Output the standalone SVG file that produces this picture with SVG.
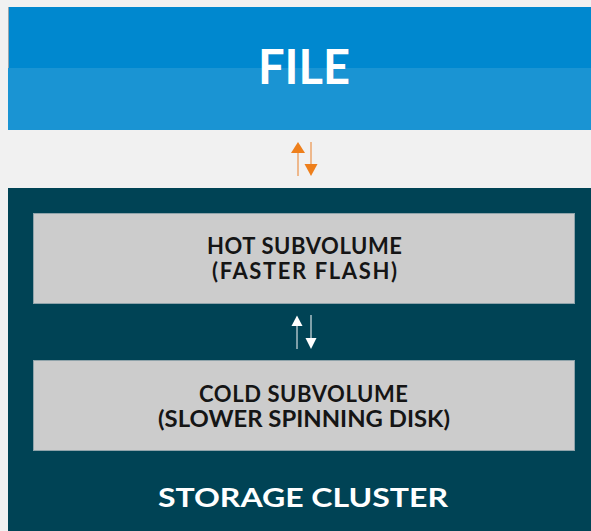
<svg xmlns="http://www.w3.org/2000/svg" width="591" height="531" viewBox="0 0 591 531">
  <style>
    .title { font-family: Lato, "Liberation Sans", sans-serif; font-weight: 700; fill: #ffffff; text-anchor: middle; }
    .label { font-family: Lato, "Liberation Sans", sans-serif; font-weight: 700; font-size: 22px; fill: #151515; text-anchor: middle; }
    .sub { fill: #cccccc; stroke: #8fa3aa; stroke-width: 1; }
  </style>

  <rect width="591" height="531" fill="#f1f1f1"/>

  <g id="file">
    <rect x="8" y="7" width="583" height="61" fill="#0088cf"/>
    <rect x="8" y="68" width="583" height="62" fill="#1a94d3"/>
    <line x1="8.5" y1="7" x2="8.5" y2="68" stroke="#9aa6ad" stroke-width="1"/>
    <text class="title" x="304" y="84" font-size="47" textLength="92" lengthAdjust="spacingAndGlyphs">FILE</text>
  </g>

  <g id="storage-cluster">
    <rect x="8" y="188" width="583" height="343" fill="#004355"/>
    <text class="title" x="303" y="507" font-size="27" textLength="290" lengthAdjust="spacingAndGlyphs">STORAGE CLUSTER</text>
  </g>

  <g id="hot-subvolume">
    <rect class="sub" x="33.5" y="213.5" width="541" height="90"/>
    <text class="label" x="304.5" y="254" textLength="195" lengthAdjust="spacing">HOT SUBVOLUME</text>
    <text class="label" x="304.5" y="279" textLength="185" lengthAdjust="spacing">(FASTER FLASH)</text>
  </g>

  <g id="cold-subvolume">
    <rect class="sub" x="33.5" y="360.5" width="541" height="90"/>
    <text class="label" x="303.5" y="401.5" textLength="209" lengthAdjust="spacing">COLD SUBVOLUME</text>
    <text class="label" x="304" y="426.5" textLength="292" lengthAdjust="spacingAndGlyphs">(SLOWER SPINNING DISK)</text>
  </g>

  <g id="connectors">
    <!-- file <-> cluster -->
    <line x1="298" y1="176" x2="298" y2="153" stroke="#eca46a" stroke-width="1.5"/>
    <path d="M291,153 L298,142 L305,153 Z" fill="#ee7f1b"/>
    <line x1="311" y1="142" x2="311" y2="165" stroke="#eca46a" stroke-width="1.5"/>
    <path d="M304.5,164 L311,176 L317.5,164 Z" fill="#ee7f1b"/>
    <!-- hot <-> cold -->
    <line x1="297" y1="349" x2="297" y2="325" stroke="#a9bec4" stroke-width="1.5"/>
    <path d="M291.5,326 L297,315.5 L302.5,326 Z" fill="#ffffff"/>
    <line x1="311" y1="315" x2="311" y2="339" stroke="#ffffff" stroke-width="1"/>
    <path d="M305.5,338 L311,349 L316.5,338 Z" fill="#ffffff"/>
  </g>
</svg>
